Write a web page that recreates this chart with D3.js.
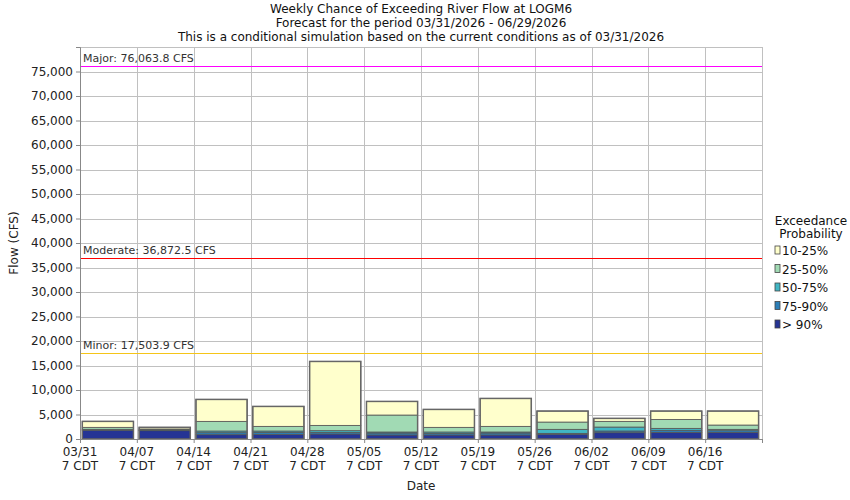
<!DOCTYPE html>
<html>
<head>
<meta charset="utf-8">
<script src="https://cdn.jsdelivr.net/npm/d3@7"></script>
<style>
  body { margin: 0; background: #fff; }
  svg { font-family: "DejaVu Sans", sans-serif; }
</style>
</head>
<body>
<svg id="chart" width="850" height="500"></svg>
<script>
// week start dates (UTC)
const weeks = ['2026-03-31','2026-04-07','2026-04-14','2026-04-21','2026-04-28','2026-05-05',
  '2026-05-12','2026-05-19','2026-05-26','2026-06-02','2026-06-09','2026-06-16'];
const tickLabels = ['03/31','04/07','04/14','04/21','04/28','05/05','05/12','05/19','05/26','06/02','06/09','06/16'];

// flow (CFS) at each exceedance level
const p90 = [1770, 1700, 880, 950, 1020, 815, 815, 815, 950, 1290, 1360, 1360];
const p75 = [1850, 1780, 1290, 1360, 1360, 1220, 1150, 1220, 1150, 1630, 1770, 1700];
const p50 = [1980, 1850, 1630, 1630, 1700, 1430, 1430, 1430, 1970, 2440, 2170, 1970];
const p25 = [2380, 2040, 3600, 2580, 2780, 4890, 2380, 2580, 3460, 3600, 4000, 2850];
const p10 = [3600, 2380, 8080, 6650, 15830, 7670, 6040, 8280, 5700, 4210, 5700, 5700];

const categories = ['10-25%', '25-50%', '50-75%', '75-90%', '> 90%'];
const colors = ['#ffffcc', '#a1dab4', '#41b6c4', '#2c7fb8', '#253494'];

const thresholds = [
  {name: 'Major', value: 76063.8, color: '#ff00ff'},
  {name: 'Moderate', value: 36872.5, color: '#ff0000'},
  {name: 'Minor', value: 17503.9, color: '#f5c518'}
];

const titleLines = [
  'Weekly Chance of Exceeding River Flow at LOGM6',
  'Forecast for the period 03/31/2026 - 06/29/2026',
  'This is a conditional simulation based on the current conditions as of 03/31/2026'
];

const margin = {top: 47, right: 88, bottom: 61, left: 80},
  width = 850 - margin.left - margin.right,
  height = 500 - margin.top - margin.bottom;

const svg = d3.select('#chart');
const chart = svg.append('g')
  .attr('transform', `translate(${margin.left},${margin.top})`);

const dates = weeks.map(d => new Date(d + 'T00:00:00Z'));
const endDate = d3.utcDay.offset(dates[dates.length - 1], 7);

const x = d3.scaleUtc()
  .domain([dates[0], endDate])
  .range([0, width]);

const y = d3.scaleLinear()
  .domain([0, 80000])
  .range([height, 0]);

// snap a 1px line to the pixel grid
const px = v => Math.round(v) + 0.5;

// grid
chart.append('g')
  .selectAll('line')
  .data(d3.range(5000, 80001, 5000))
  .enter().append('line')
  .attr('x1', 0).attr('x2', width)
  .attr('y1', d => px(y(d))).attr('y2', d => px(y(d)))
  .attr('stroke', '#c0c0c0');

chart.append('g')
  .selectAll('line')
  .data(dates.slice(1).concat([endDate]))
  .enter().append('line')
  .attr('x1', d => px(x(d))).attr('x2', d => px(x(d)))
  .attr('y1', 0).attr('y2', height)
  .attr('stroke', '#c0c0c0');

// stacked bars
const stackData = weeks.map((w, i) => ({
  date: dates[i],
  levels: [0, p90[i], p75[i], p50[i], p25[i], p10[i]]
}));

const barW = (x(dates[1]) - x(dates[0])) * 0.9;

stackData.forEach(d => {
  const g = chart.append('g');
  for (let k = 0; k < 5; k++) {
    const lo = d.levels[k], hi = d.levels[k + 1];
    g.append('rect')
      .attr('x', x(d.date) + 2.3)
      .attr('width', barW)
      .attr('y', y(hi))
      .attr('height', Math.max(0, y(lo) - y(hi)))
      .attr('fill', colors[4 - k])
      .attr('stroke', '#555')
      .attr('stroke-width', 0.8);
  }
  g.append('rect')
    .attr('x', x(d.date) + 2.3)
    .attr('width', barW)
    .attr('y', y(d.levels[5]))
    .attr('height', y(0) - y(d.levels[5]))
    .attr('fill', 'none')
    .attr('stroke', '#666')
    .attr('stroke-width', 1.5);
});

// threshold lines
thresholds.forEach(t => {
  chart.append('line')
    .attr('x1', 0).attr('x2', width)
    .attr('y1', px(y(t.value))).attr('y2', px(y(t.value)))
    .attr('stroke', t.color)
    .attr('stroke-width', 1.2);
  chart.append('text')
    .attr('x', 3)
    .attr('y', y(t.value) - 4)
    .attr('font-size', 11)
    .attr('fill', '#333')
    .text(`${t.name}: ${d3.format(',.1f')(t.value)} CFS`);
});

// axes
const yAxis = chart.append('g')
  .call(d3.axisLeft(y).tickValues(d3.range(0, 80000, 5000)).tickFormat(d3.format(',')).tickSize(4));
yAxis.selectAll('text').attr('font-size', 12).attr('fill', '#222').attr('font-family', 'DejaVu Sans');
yAxis.select('.domain').attr('stroke', '#888');
yAxis.selectAll('.tick line').attr('stroke', '#888');

const xAxis = chart.append('g')
  .attr('transform', `translate(0,${height})`)
  .call(d3.axisBottom(x).tickValues(dates.concat([endDate])).tickFormat('').tickSize(4));
xAxis.select('.domain').attr('stroke', '#888');
xAxis.selectAll('.tick line').attr('stroke', '#888');

const xl = chart.append('g').attr('transform', `translate(0,${height})`);
dates.forEach((d, i) => {
  const t = xl.append('text')
    .attr('x', x(d))
    .attr('text-anchor', 'middle')
    .attr('font-size', 12)
    .attr('fill', '#222');
  t.append('tspan').attr('x', x(d)).attr('y', 17).text(tickLabels[i]);
  t.append('tspan').attr('x', x(d)).attr('y', 31).text('7 CDT');
});

// axis labels
chart.append('text')
  .attr('x', width / 2)
  .attr('y', height + 51)
  .attr('text-anchor', 'middle')
  .attr('font-size', 12)
  .attr('fill', '#222')
  .text('Date');

chart.append('text')
  .attr('transform', `translate(${-62},${height / 2}) rotate(-90)`)
  .attr('text-anchor', 'middle')
  .attr('font-size', 12)
  .attr('fill', '#222')
  .text('Flow (CFS)');

// title
svg.append('g')
  .selectAll('text')
  .data(titleLines)
  .enter().append('text')
  .attr('x', margin.left + width / 2)
  .attr('y', (d, i) => 13 + i * 14)
  .attr('text-anchor', 'middle')
  .attr('font-size', 12)
  .attr('fill', '#111')
  .text(d => d);

// legend
const legend = svg.append('g').attr('transform', 'translate(811,0)');
legend.append('text').attr('y', 225).attr('text-anchor', 'middle').attr('font-size', 12).attr('fill', '#111').text('Exceedance');
legend.append('text').attr('y', 238).attr('text-anchor', 'middle').attr('font-size', 12).attr('fill', '#111').text('Probability');

categories.forEach((c, i) => {
  const yy = 251 + i * 18.5;
  legend.append('rect')
    .attr('x', -36).attr('y', yy - 5)
    .attr('width', 5).attr('height', 8)
    .attr('fill', colors[i])
    .attr('stroke', '#444')
    .attr('stroke-width', 0.8);
  legend.append('text')
    .attr('x', -29).attr('y', yy + 4)
    .attr('font-size', 12)
    .attr('fill', '#111')
    .text(c);
});
</script>
</body>
</html>
